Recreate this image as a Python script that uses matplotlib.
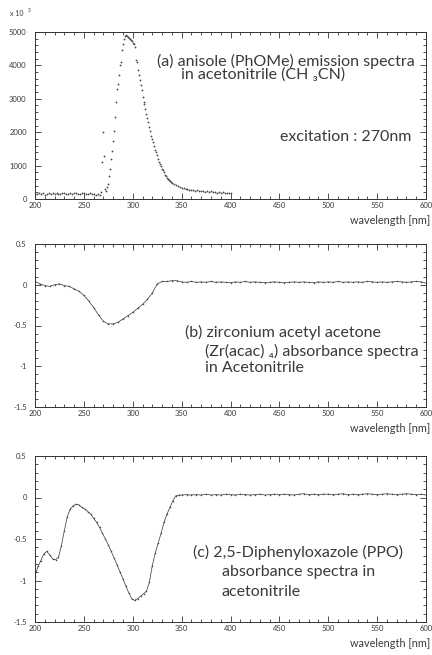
import matplotlib
matplotlib.use("Agg")
import matplotlib.pyplot as plt
from matplotlib.ticker import MultipleLocator

plt.rcParams['font.family'] = ['Lato', 'DejaVu Sans']

# ---------------- data ----------------
# (a) anisole emission spectrum (counts / 1000 shown on axis as x10^3)
a_wl = [200, 202, 204, 206, 208, 210, 212, 214, 216, 218, 220, 222, 224, 226, 228,
        230, 232, 234, 236, 238, 240, 242, 244, 246, 248, 250, 252, 254, 256, 258,
        260, 262, 264, 266, 268,
        269, 270, 271, 272, 273, 274, 275, 276, 277, 278, 279, 280, 281, 282, 283,
        284, 285, 286, 287, 288, 289, 290, 291, 292, 293, 294, 295, 296, 297, 298,
        299, 300, 301, 302, 303, 304, 305, 306, 307, 308, 309, 310, 311, 312, 313,
        314, 315, 316, 317, 318, 319, 320, 321, 322, 323, 324, 325, 326, 327, 328,
        329, 330, 331, 332, 333, 334, 335, 336, 337, 338, 339, 340,
        342, 344, 346, 348, 350, 352, 354, 356, 358, 360, 362, 364, 366, 368, 370,
        372, 374, 376, 378, 380, 382, 384, 386, 388, 390, 392, 394, 396, 398, 400]
a_val = [160, 140, 180, 150, 170, 130, 160, 190, 150, 170, 140, 180, 160, 150, 190,
         170, 140, 160, 180, 150, 170, 190, 160, 140, 170, 180, 150, 160, 170, 140,
         150, 120, 160, 130, 200,
         1100, 2000, 1300, 300, 250, 350, 450, 700, 900, 1200, 1450, 1750, 2050, 2450, 2900,
         3300, 3450, 3700, 4000, 4100, 4450, 4650, 4800, 4880, 4920, 4880, 4850, 4830, 4800, 4760,
         4720, 4680, 4640, 4560, 4150, 4100, 3850, 3700, 3550, 3400, 3250, 3050, 2900, 2850, 2700,
         2550, 2420, 2300, 2150, 2050, 1900, 1800, 1700, 1580, 1480, 1400, 1320, 1200, 1100, 1050,
         980, 900, 860, 800, 730, 680, 640, 600, 560, 530, 500, 480,
         440, 420, 390, 360, 340, 320, 300, 290, 280, 270, 260, 250, 270, 240, 230,
         250, 220, 240, 210, 230, 200, 220, 190, 210, 180, 200, 170, 190, 180, 170]

# (b) Zr(acac)4 absorbance spectrum
b_wl = [200, 205, 210, 215, 220, 225, 230, 235, 240, 245, 250, 255, 260, 265, 270,
        275, 280, 285, 290, 295, 300, 305, 310, 315, 320, 325, 330, 335, 340, 345,
        350, 355, 360, 365, 370, 375, 380, 385, 390, 395, 400, 405, 410, 415, 420,
        425, 430, 435, 440, 445, 450, 455, 460, 465, 470, 475, 480, 485, 490, 495,
        500, 505, 510, 515, 520, 525, 530, 535, 540, 545, 550, 555, 560, 565, 570,
        575, 580, 585, 590, 595, 600]
b_val = [0.04, 0.01, -0.01, -0.02, 0.00, 0.01, -0.01, -0.02, -0.05, -0.08, -0.13, -0.20, -0.28, -0.37, -0.45,
         -0.48, -0.48, -0.46, -0.42, -0.38, -0.34, -0.29, -0.24, -0.18, -0.10, 0.01, 0.04, 0.04, 0.05, 0.05,
         0.035, 0.03, 0.04, 0.03, 0.035, 0.03, 0.04, 0.03, 0.035, 0.03, 0.025, 0.035, 0.03, 0.04, 0.03,
         0.035, 0.03, 0.025, 0.03, 0.035, 0.03, 0.025, 0.03, 0.035, 0.03, 0.035, 0.03, 0.025, 0.035, 0.03,
         0.035, 0.03, 0.04, 0.03, 0.035, 0.03, 0.035, 0.03, 0.04, 0.035, 0.03, 0.035, 0.03, 0.035, 0.04,
         0.035, 0.03, 0.035, 0.04, 0.035, 0.02]

# (c) PPO absorbance spectrum
c_wl = [200, 203, 206, 209, 212, 215, 218, 221, 224, 227, 230, 233, 236, 239, 242,
        245, 248, 251, 254, 257, 260, 263, 266, 269, 272, 275, 278, 281, 284, 287,
        290, 293, 296, 299, 302, 305, 308, 311, 314, 317, 320, 323, 326, 329, 332,
        335, 338, 341, 344, 347,
        350, 355, 360, 365, 370, 375, 380, 385, 390, 395, 400, 405, 410, 415, 420,
        425, 430, 435, 440, 445, 450, 455, 460, 465, 470, 475, 480, 485, 490, 495,
        500, 505, 510, 515, 520, 525, 530, 535, 540, 545, 550, 555, 560, 565, 570,
        575, 580, 585, 590, 595, 600]
c_val = [-0.95, -0.83, -0.76, -0.68, -0.65, -0.69, -0.74, -0.75, -0.72, -0.58, -0.40, -0.23, -0.14, -0.10, -0.08,
         -0.09, -0.12, -0.14, -0.17, -0.20, -0.25, -0.30, -0.36, -0.43, -0.50, -0.57, -0.65, -0.73, -0.81, -0.90,
         -0.98, -1.07, -1.15, -1.22, -1.24, -1.22, -1.19, -1.16, -1.13, -1.02, -0.82, -0.67, -0.55, -0.43, -0.30,
         -0.20, -0.12, -0.04, 0.02, 0.03,
         0.03, 0.035, 0.03, 0.035, 0.03, 0.04, 0.03, 0.035, 0.03, 0.04, 0.035, 0.03, 0.04, 0.035, 0.03,
         0.035, 0.04, 0.03, 0.035, 0.04, 0.035, 0.04, 0.035, 0.03, 0.04, 0.045, 0.035, 0.04, 0.035, 0.04,
         0.04, 0.035, 0.04, 0.045, 0.035, 0.04, 0.035, 0.04, 0.045, 0.04, 0.035, 0.04, 0.045, 0.04, 0.035,
         0.04, 0.045, 0.04, 0.035, 0.04, 0.03]

x_ticks = [200, 250, 300, 350, 400, 450, 500, 550, 600]
a_yticks = [0, 1000, 2000, 3000, 4000, 5000]
bc_yticks = [-1.5, -1, -0.5, 0, 0.5]
bc_ylabels = ['-1.5', '-1', '-0.5', '0', '0.5']

# ---------------- figure ----------------
W, H = 432, 655
fig = plt.figure(figsize=(W / 100, H / 100), dpi=100)

def axrect(left, top, right, bottom):
    return [left / W, 1 - bottom / H, (right - left) / W, (bottom - top) / H]

ink = '#333333'
txt = '#3a3a3a'

def style(ax):
    ax.set_xlim(200, 600)
    ax.set_xticks(x_ticks)
    ax.xaxis.set_minor_locator(MultipleLocator(10))
    ax.tick_params(which='both', direction='in', top=True, right=True,
                   color=ink, width=0.6, labelsize=5.5, labelcolor=txt)
    ax.tick_params(which='major', length=4.5)
    ax.tick_params(which='minor', length=2.2)
    ax.tick_params(axis='x', pad=2)
    ax.tick_params(axis='y', pad=6)
    for s in ax.spines.values():
        s.set_linewidth(0.7)
        s.set_color(ink)
    ax.text(1.01, -0.13, 'wavelength [nm]', transform=ax.transAxes,
            ha='right', va='center', fontsize=7.8, color=txt)

# (a)
axa = fig.add_axes(axrect(35, 32, 426, 199))
axa.plot(a_wl, a_val, linestyle='none', marker='o', markersize=1.3,
         color='#444444', markeredgewidth=0)
axa.set_ylim(0, 5000)
axa.set_yticks(a_yticks)
axa.yaxis.set_minor_locator(MultipleLocator(200))
style(axa)
fig.text(10 / W, 1 - 13 / H, 'x 10', fontsize=5, va='center', color=txt)
fig.text(28 / W, 1 - 10 / H, '3', fontsize=3.5, va='center', color=txt)
tkw = dict(fontsize=11.5, color=txt, va='center', ha='left')
fig.text(157 / W, 1 - 61 / H, '(a) anisole (PhOMe) emission spectra', **tkw)
fig.text(181 / W, 1 - 75 / H, 'in acetonitrile (CH \u2083CN)', **tkw)
fig.text(280 / W, 1 - 137 / H, 'excitation : 270nm', **tkw)

# (b)
axb = fig.add_axes(axrect(35, 244, 426, 407))
axb.plot(b_wl, b_val, linestyle='-', linewidth=0.55, marker='o', markersize=1.1,
         color='#444444', markeredgewidth=0)
axb.set_ylim(-1.5, 0.5)
axb.set_yticks(bc_yticks)
axb.set_yticklabels(bc_ylabels)
axb.yaxis.set_minor_locator(MultipleLocator(0.1))
style(axb)
fig.text(185 / W, 1 - 332 / H, '(b) zirconium acetyl acetone', **tkw)
fig.text(205 / W, 1 - 351 / H, '(Zr(acac) \u2084) absorbance spectra', **tkw)
fig.text(205 / W, 1 - 368 / H, 'in Acetonitrile', **tkw)

# (c)
axc = fig.add_axes(axrect(35, 456, 426, 622))
axc.plot(c_wl, c_val, linestyle='-', linewidth=0.55, marker='o', markersize=1.1,
         color='#444444', markeredgewidth=0)
axc.set_ylim(-1.5, 0.5)
axc.set_yticks(bc_yticks)
axc.set_yticklabels(bc_ylabels)
axc.yaxis.set_minor_locator(MultipleLocator(0.1))
style(axc)
fig.text(193 / W, 1 - 552 / H, '(c) 2,5-Diphenyloxazole (PPO)', **tkw)
fig.text(222 / W, 1 - 572 / H, 'absorbance spectra in', **tkw)
fig.text(222 / W, 1 - 592 / H, 'acetonitrile', **tkw)

fig.savefig('out.png', dpi=100)
